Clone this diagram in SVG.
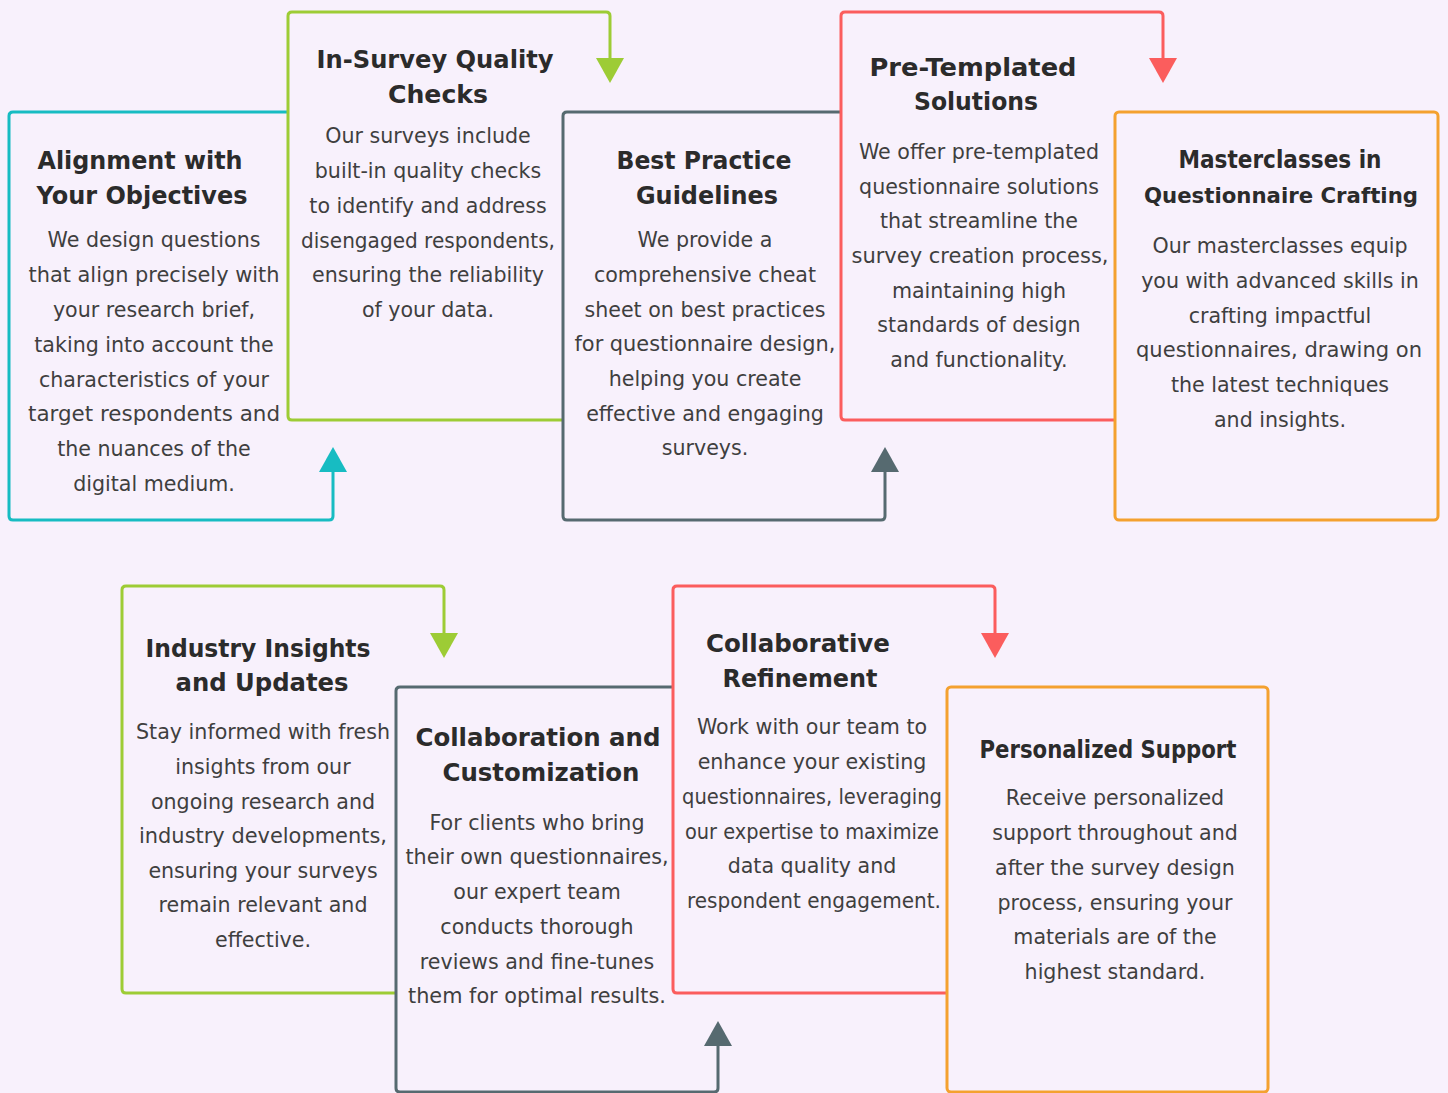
<svg xmlns="http://www.w3.org/2000/svg" width="1448" height="1093" viewBox="0 0 1448 1093">
<style>
.b{fill:none;stroke-width:3;stroke-linejoin:round}
.teal{stroke:#17bcc2}.green{stroke:#9dcc35}.grey{stroke:#566a70}.red{stroke:#fb5d5d}.orange{stroke:#f4a12f}
.t{font-family:"DejaVu Sans",sans-serif;font-weight:bold;font-size:24px;fill:#2b2b2b;text-anchor:middle}
.p{font-family:"DejaVu Sans",sans-serif;font-size:20.6px;fill:#3f3f3f;text-anchor:middle}
</style>
<defs>
<marker id="mTeal" markerUnits="userSpaceOnUse" markerWidth="25" markerHeight="28" refX="0" refY="14" orient="auto" viewBox="0 0 25 28"><path d="M0,0 L25,14 L0,28 z" fill="#17bcc2"/></marker>
<marker id="mGreen" markerUnits="userSpaceOnUse" markerWidth="25" markerHeight="28" refX="0" refY="14" orient="auto" viewBox="0 0 25 28"><path d="M0,0 L25,14 L0,28 z" fill="#9dcc35"/></marker>
<marker id="mGrey" markerUnits="userSpaceOnUse" markerWidth="25" markerHeight="28" refX="0" refY="14" orient="auto" viewBox="0 0 25 28"><path d="M0,0 L25,14 L0,28 z" fill="#566a70"/></marker>
<marker id="mRed" markerUnits="userSpaceOnUse" markerWidth="25" markerHeight="28" refX="0" refY="14" orient="auto" viewBox="0 0 25 28"><path d="M0,0 L25,14 L0,28 z" fill="#fb5d5d"/></marker>
</defs>
<rect width="1448" height="1093" fill="#f8f1fc"/>

<g id="n1">
<path class="b teal" d="M288,112 H13 Q9,112 9,116 V516 Q9,520 13,520 H329"/>
<text class="t" x="140" y="169" textLength="205" lengthAdjust="spacingAndGlyphs">Alignment with</text>
<text class="t" x="142" y="204" textLength="211" lengthAdjust="spacingAndGlyphs">Your Objectives</text>
<text class="p" x="154" y="247">We design questions</text>
<text class="p" x="154" y="282" textLength="251" lengthAdjust="spacingAndGlyphs">that align precisely with</text>
<text class="p" x="154" y="317">your research brief,</text>
<text class="p" x="154" y="352">taking into account the</text>
<text class="p" x="154" y="387">characteristics of your</text>
<text class="p" x="154" y="421" textLength="252" lengthAdjust="spacingAndGlyphs">target respondents and</text>
<text class="p" x="154" y="456">the nuances of the</text>
<text class="p" x="154" y="491">digital medium.</text>
</g>

<g id="n2">
<path class="b green" d="M563,420 H292 Q288,420 288,416 V16 Q288,12 292,12 H606"/>
<text class="t" x="435" y="68" textLength="237" lengthAdjust="spacingAndGlyphs">In-Survey Quality</text>
<text class="t" x="438" y="103" textLength="100" lengthAdjust="spacingAndGlyphs">Checks</text>
<text class="p" x="428" y="143">Our surveys include</text>
<text class="p" x="428" y="178">built-in quality checks</text>
<text class="p" x="428" y="213">to identify and address</text>
<text class="p" x="428" y="248" textLength="254" lengthAdjust="spacingAndGlyphs">disengaged respondents,</text>
<text class="p" x="428" y="282">ensuring the reliability</text>
<text class="p" x="428" y="317">of your data.</text>
</g>

<g id="n3">
<path class="b grey" d="M841,112 H567 Q563,112 563,116 V516 Q563,520 567,520 H881"/>
<text class="t" x="704" y="169" textLength="175" lengthAdjust="spacingAndGlyphs">Best Practice</text>
<text class="t" x="707" y="204" textLength="142" lengthAdjust="spacingAndGlyphs">Guidelines</text>
<text class="p" x="705" y="247">We provide a</text>
<text class="p" x="705" y="282">comprehensive cheat</text>
<text class="p" x="705" y="317">sheet on best practices</text>
<text class="p" x="705" y="351" textLength="261" lengthAdjust="spacingAndGlyphs">for questionnaire design,</text>
<text class="p" x="705" y="386">helping you create</text>
<text class="p" x="705" y="421">effective and engaging</text>
<text class="p" x="705" y="455">surveys.</text>
</g>

<g id="n4">
<path class="b red" d="M1115,420 H845 Q841,420 841,416 V16 Q841,12 845,12 H1159"/>
<text class="t" x="973" y="76" textLength="207" lengthAdjust="spacingAndGlyphs">Pre-Templated</text>
<text class="t" x="976" y="110" textLength="124" lengthAdjust="spacingAndGlyphs">Solutions</text>
<text class="p" x="979" y="159">We offer pre-templated</text>
<text class="p" x="979" y="194">questionnaire solutions</text>
<text class="p" x="979" y="228">that streamline the</text>
<text class="p" x="980" y="263" textLength="257" lengthAdjust="spacingAndGlyphs">survey creation process,</text>
<text class="p" x="979" y="298">maintaining high</text>
<text class="p" x="979" y="332">standards of design</text>
<text class="p" x="979" y="367">and functionality.</text>
</g>

<g id="n5">
<rect class="b orange" x="1115" y="112" width="323" height="408" rx="4"/>
<text class="t" x="1280" y="168" textLength="203" lengthAdjust="spacingAndGlyphs">Masterclasses in</text>
<text class="t" x="1281" y="203" style="font-size:22px" textLength="274" lengthAdjust="spacingAndGlyphs">Questionnaire Crafting</text>
<text class="p" x="1280" y="253">Our masterclasses equip</text>
<text class="p" x="1280" y="288">you with advanced skills in</text>
<text class="p" x="1280" y="323">crafting impactful</text>
<text class="p" x="1279" y="357" textLength="286" lengthAdjust="spacingAndGlyphs">questionnaires, drawing on</text>
<text class="p" x="1280" y="392">the latest techniques</text>
<text class="p" x="1280" y="427">and insights.</text>
</g>

<g id="n6">
<path class="b green" d="M396,993 H126 Q122,993 122,989 V590 Q122,586 126,586 H440"/>
<text class="t" x="258" y="657" textLength="225" lengthAdjust="spacingAndGlyphs">Industry Insights</text>
<text class="t" x="262" y="691" textLength="173" lengthAdjust="spacingAndGlyphs">and Updates</text>
<text class="p" x="263" y="739" textLength="254" lengthAdjust="spacingAndGlyphs">Stay informed with fresh</text>
<text class="p" x="263" y="774">insights from our</text>
<text class="p" x="263" y="809">ongoing research and</text>
<text class="p" x="263" y="843" textLength="248" lengthAdjust="spacingAndGlyphs">industry developments,</text>
<text class="p" x="263" y="878">ensuring your surveys</text>
<text class="p" x="263" y="912">remain relevant and</text>
<text class="p" x="263" y="947">effective.</text>
</g>

<g id="n7">
<path class="b grey" d="M673,687 H400 Q396,687 396,691 V1088 Q396,1092 400,1092 H714"/>
<text class="t" x="538" y="746" textLength="245" lengthAdjust="spacingAndGlyphs">Collaboration and</text>
<text class="t" x="541" y="781" textLength="197" lengthAdjust="spacingAndGlyphs">Customization</text>
<text class="p" x="537" y="830">For clients who bring</text>
<text class="p" x="537" y="864" textLength="263" lengthAdjust="spacingAndGlyphs">their own questionnaires,</text>
<text class="p" x="537" y="899">our expert team</text>
<text class="p" x="537" y="934">conducts thorough</text>
<text class="p" x="537" y="969">reviews and fine-tunes</text>
<text class="p" x="537" y="1003" textLength="258" lengthAdjust="spacingAndGlyphs">them for optimal results.</text>
</g>

<g id="n8">
<path class="b red" d="M947,993 H677 Q673,993 673,989 V590 Q673,586 677,586 H991"/>
<text class="t" x="798" y="652" textLength="184" lengthAdjust="spacingAndGlyphs">Collaborative</text>
<text class="t" x="800" y="687" textLength="155" lengthAdjust="spacingAndGlyphs">Refinement</text>
<text class="p" x="812" y="734">Work with our team to</text>
<text class="p" x="812" y="769">enhance your existing</text>
<text class="p" x="812" y="804" textLength="260" lengthAdjust="spacingAndGlyphs">questionnaires, leveraging</text>
<text class="p" x="812" y="839" textLength="254" lengthAdjust="spacingAndGlyphs">our expertise to maximize</text>
<text class="p" x="812" y="873">data quality and</text>
<text class="p" x="814" y="908" textLength="254" lengthAdjust="spacingAndGlyphs">respondent engagement.</text>
</g>

<g id="n9">
<rect class="b orange" x="947" y="687" width="321" height="405" rx="4"/>
<text class="t" x="1108" y="758" textLength="257" lengthAdjust="spacingAndGlyphs">Personalized Support</text>
<text class="p" x="1115" y="805">Receive personalized</text>
<text class="p" x="1115" y="840">support throughout and</text>
<text class="p" x="1115" y="875">after the survey design</text>
<text class="p" x="1115" y="910">process, ensuring your</text>
<text class="p" x="1115" y="944">materials are of the</text>
<text class="p" x="1115" y="979">highest standard.</text>
</g>

<g id="connectors">
<path class="b teal" d="M329,520 Q333,520 333,516 V472" marker-end="url(#mTeal)"/>
<path class="b green" d="M606,12 Q610,12 610,16 V58" marker-end="url(#mGreen)"/>
<path class="b grey" d="M881,520 Q885,520 885,516 V472" marker-end="url(#mGrey)"/>
<path class="b red" d="M1159,12 Q1163,12 1163,16 V58" marker-end="url(#mRed)"/>
<path class="b green" d="M440,586 Q444,586 444,590 V633" marker-end="url(#mGreen)"/>
<path class="b grey" d="M714,1092 Q718,1092 718,1088 V1046" marker-end="url(#mGrey)"/>
<path class="b red" d="M991,586 Q995,586 995,590 V633" marker-end="url(#mRed)"/>
</g>
</svg>
